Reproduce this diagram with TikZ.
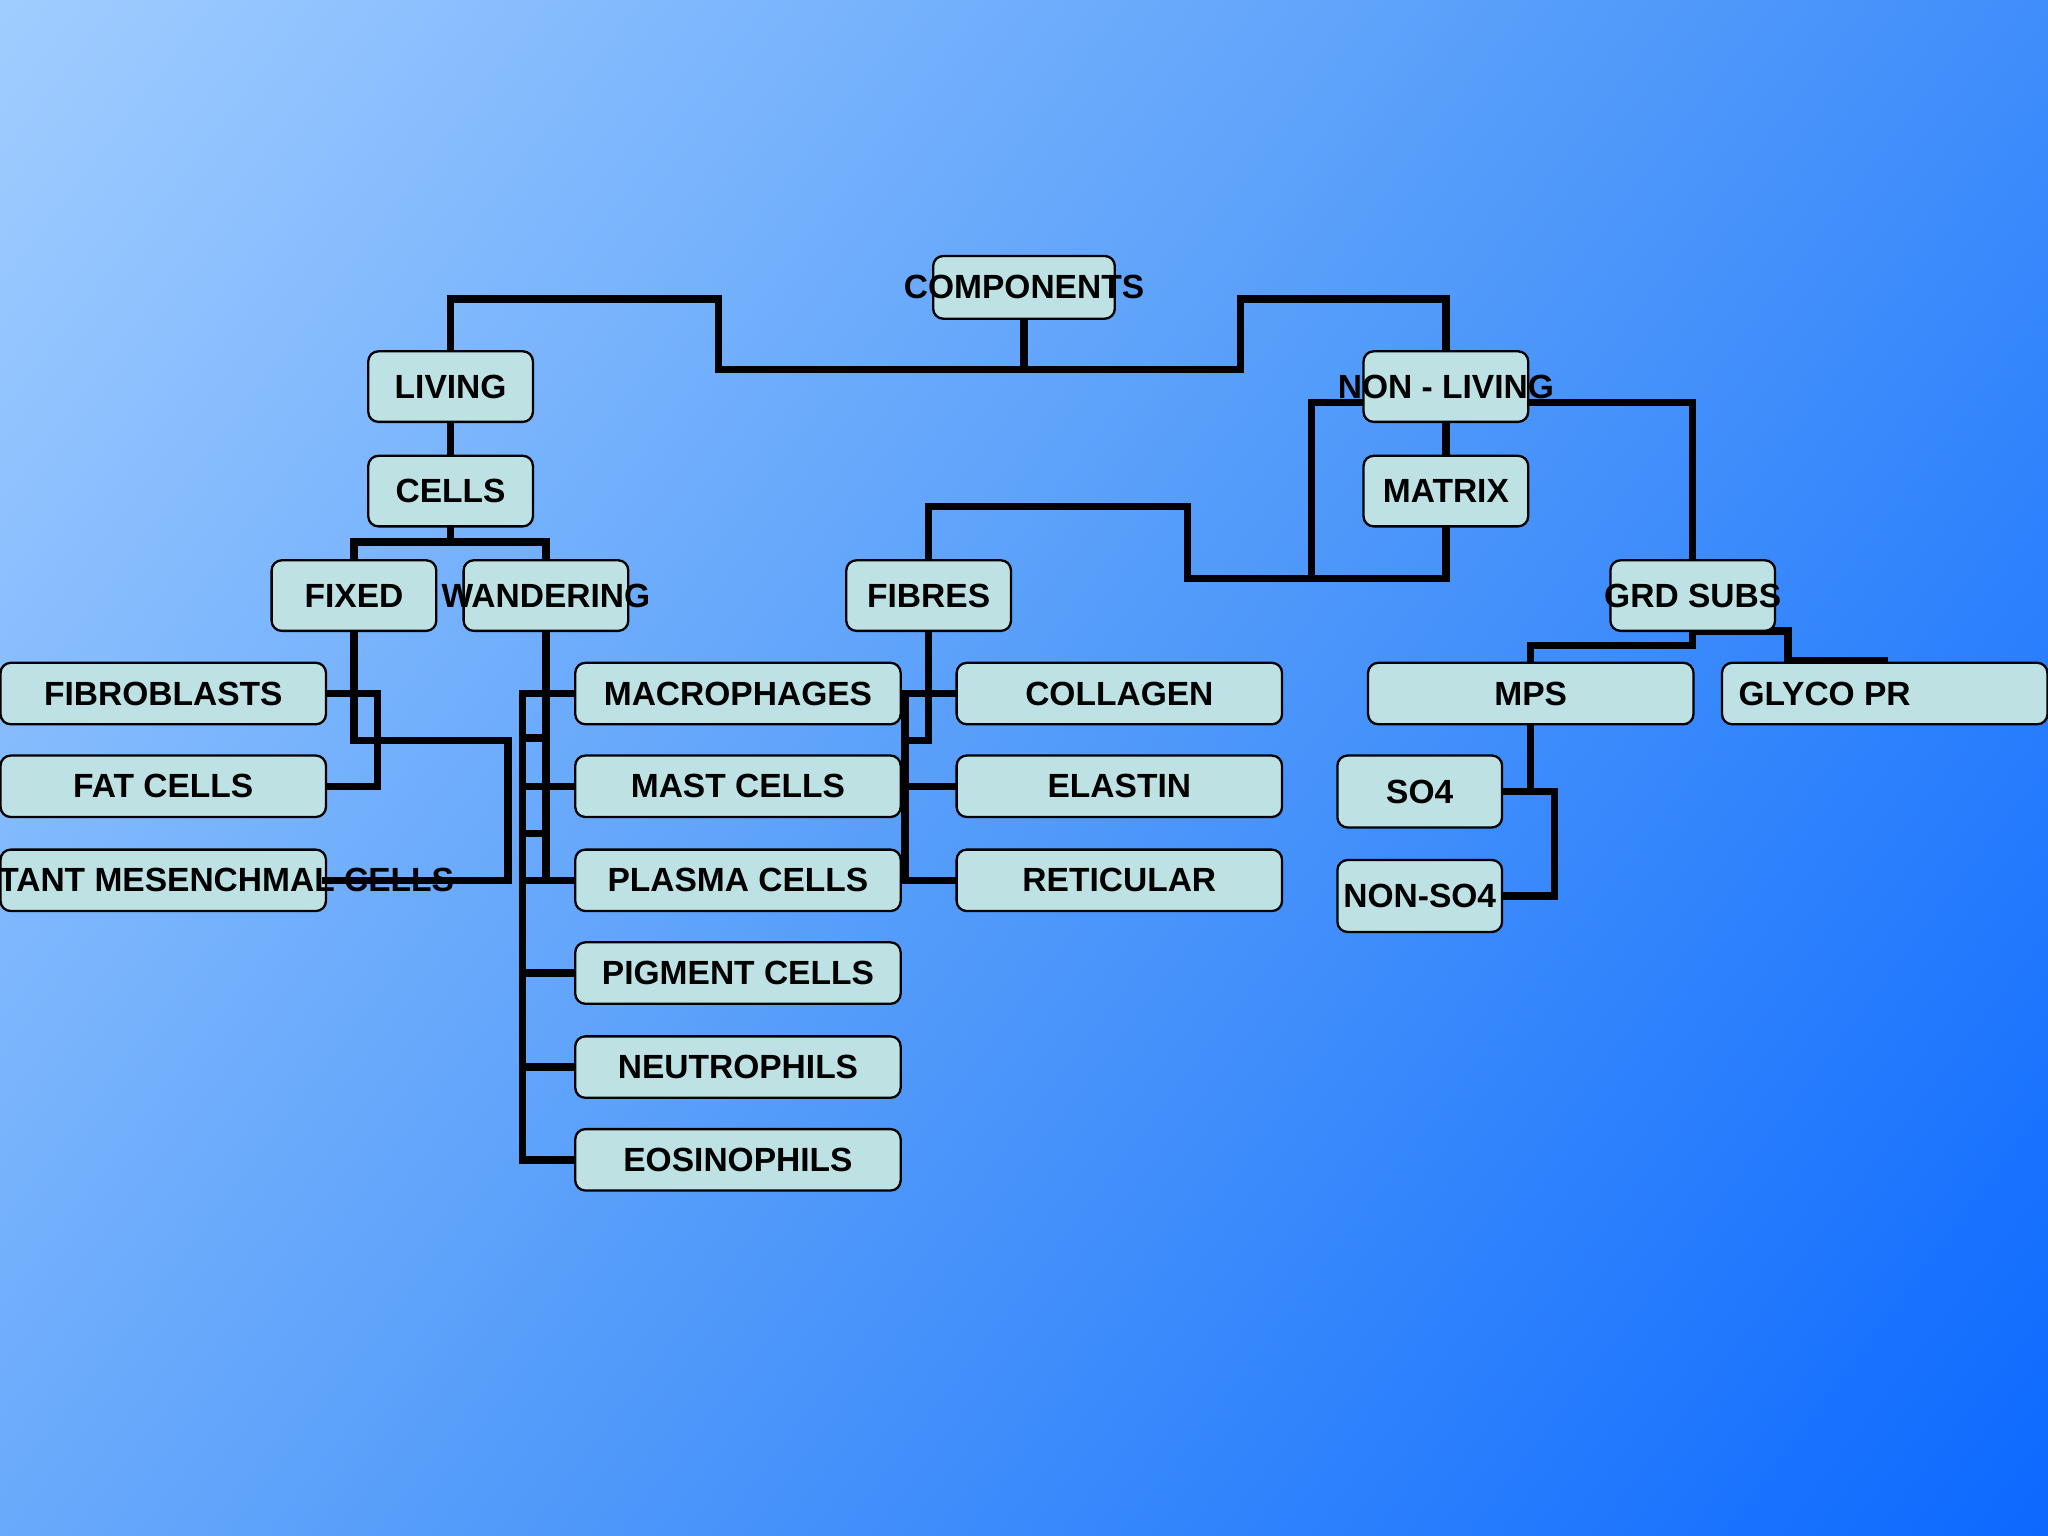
\documentclass[tikz,border=0pt]{standalone}
\usepackage{fontspec}
\setmainfont{Liberation Sans}
\definecolor{bgA}{RGB}{162,206,255}
\definecolor{bgB}{RGB}{84,156,250}
\definecolor{bgC}{RGB}{10,104,255}
\definecolor{boxfill}{RGB}{190,226,228}
\begin{document}
\begin{tikzpicture}[x=0.01cm,y=-0.01cm,
  bx/.style={draw=black,line width=0.5pt,fill=boxfill,rounded corners=2.2pt,inner sep=0pt,
    font=\fontsize{7.3}{8}\selectfont\bfseries},
  sm/.style={bx,minimum width=1.26cm,minimum height=0.54cm},
  wd/.style={bx,minimum width=2.49cm,minimum height=0.47cm},
  ln/.style={line width=1.6pt,line cap=rect}]
\useasboundingbox (0,0) rectangle (1568,1176);
\shade[left color=bgA,right color=bgC,middle color=bgB,shading angle=53] (-300,-300) rectangle (1868,1476);
\clip (0,0) rectangle (1568,1176);
% connectors first
\coordinate (cb) at (784,283);
\draw[ln] (784,244) -- (cb);
\draw[ln] (345,269) -- (345,229) -- (550,229) -- (550,283) -- (950,283) -- (950,229) -- (1107,229) -- (1107,269);
\draw[ln] (345,323) -- (345,349);
\draw[ln] (345,403) -- (345,415);
\draw[ln] (271,428) -- (271,415) -- (418,415) -- (418,428);
% fixed
\draw[ln] (271,483) -- (271,567) -- (389,567) -- (389,674) -- (249,674);
\draw[ln] (249,531) -- (289,531) -- (289,602) -- (249,602);
% wandering
\draw[ln] (418,483) -- (418,674) -- (440,674);
\draw[ln] (400,531) -- (400,888) -- (440,888);
\foreach \y in {531,602,674,745,817} \draw[ln] (400,\y) -- (440,\y);
\foreach \y in {565,638} \draw[ln] (400,\y) -- (418,\y);
% fibres
\draw[ln] (711,483) -- (711,567) -- (693,567);
\draw[ln] (693,531) -- (693,674);
\foreach \y in {531,602,674} \draw[ln] (689,\y) -- (732,\y);
% matrix / non-living
\draw[ln] (1107,323) -- (1107,349);
\draw[ln] (1107,403) -- (1107,443) -- (909,443) -- (909,388) -- (711,388) -- (711,428);
\draw[ln] (1045,308) -- (1004,308) -- (1004,443);
\draw[ln] (1170,308) -- (1296,308) -- (1296,428);
% grd subs
\draw[ln] (1296,483) -- (1296,494) -- (1172,494) -- (1172,508);
\draw[ln] (1296,483) -- (1369,483) -- (1369,506) -- (1443,506);
% mps
\draw[ln] (1172,554) -- (1172,606) -- (1150,606);
\draw[ln] (1172,606) -- (1190,606) -- (1190,686) -- (1150,686);
% nodes
\node[sm,minimum width=1.39cm,minimum height=0.48cm] (comp) at (784,220) {};
\node[font=\fontsize{7.3}{8}\selectfont\bfseries] at (784,220) {COMPONENTS};
\node[sm] (living) at (345,296) {LIVING};
\node[sm] (cells) at (345,376) {CELLS};
\node[sm] (fixed) at (271,456) {FIXED};
\node[sm] (wand) at (418,456) {};
\node[font=\fontsize{7.3}{8}\selectfont\bfseries] at (418,456) {WANDERING};
\node[sm] (fibres) at (711,456) {FIBRES};
\node[sm] (nonliv) at (1107,296) {};
\node[font=\fontsize{7.3}{8}\selectfont\bfseries] at (1107,296) {NON - LIVING};
\node[sm] (matrix) at (1107,376) {MATRIX};
\node[sm] (grd) at (1296,456) {};
\node[font=\fontsize{7.3}{8}\selectfont\bfseries] at (1296,456) {GRD SUBS};
\node[wd] (fib) at (125,531) {FIBROBLASTS};
\node[wd] (fat) at (125,602) {FAT CELLS};
\node[wd] (mes) at (125,674) {};
\draw[ln] (249,674) -- (300,674);
\node[anchor=west,inner sep=0pt,font=\fontsize{7.3}{8}\selectfont\bfseries] at (-2,674) {TANT MESENCHMAL CELLS};
\node[wd] (mac) at (565,531) {MACROPHAGES};
\node[wd] (mast) at (565,602) {MAST CELLS};
\node[wd] (plas) at (565,674) {PLASMA CELLS};
\node[wd] (pig) at (565,745) {PIGMENT CELLS};
\node[wd] (neu) at (565,817) {NEUTROPHILS};
\node[wd] (eos) at (565,888) {EOSINOPHILS};
\node[wd] (col) at (857,531) {COLLAGEN};
\node[wd] (ela) at (857,602) {ELASTIN};
\node[wd] (ret) at (857,674) {RETICULAR};
\node[wd] (mps) at (1172,531) {MPS};
\node[wd] (gly) at (1443,531) {};
\node[font=\fontsize{7.3}{8}\selectfont\bfseries] at (1397,531) {GLYCO PR};
\node[sm,minimum height=0.55cm] (so4) at (1087,606) {SO4};
\node[sm,minimum height=0.55cm] (nonso4) at (1087,686) {NON-SO4};
\end{tikzpicture}
\end{document}
